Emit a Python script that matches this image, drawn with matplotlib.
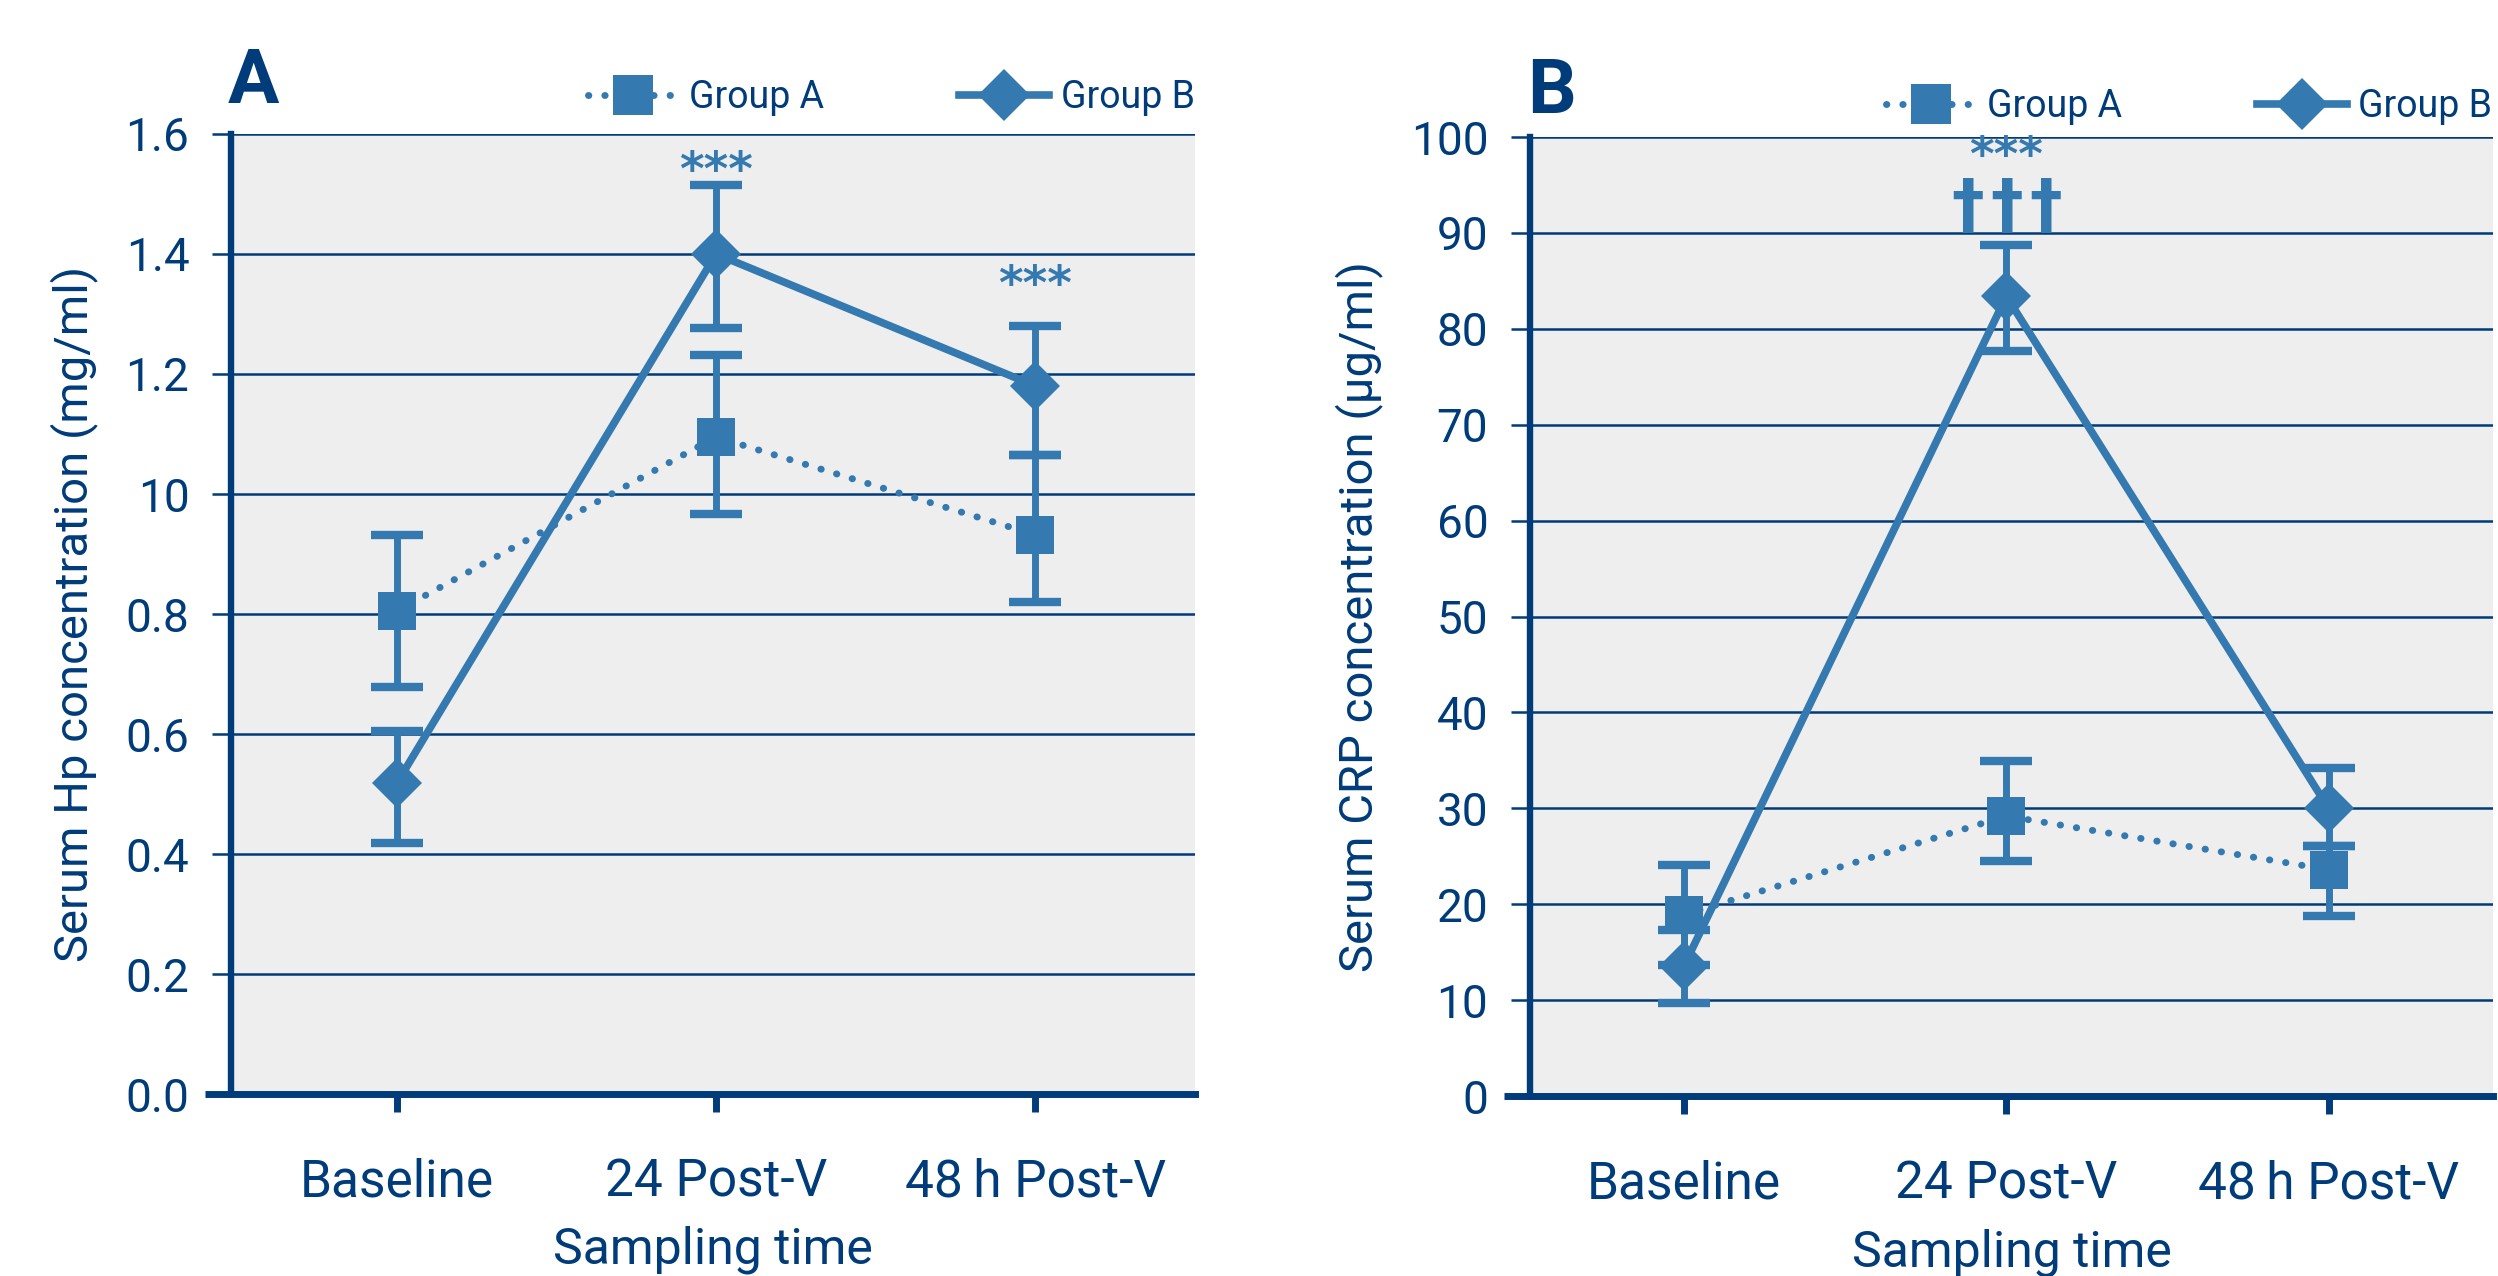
import numpy as np
import matplotlib.pyplot as plt

plt.rcParams['font.family'] = ['Roboto', 'DejaVu Sans']

NAVY = '#003b7a'
BLUE = '#347ab0'
BG = '#eeeeee'

times = ['Baseline', '24 Post-V', '48\u2009h Post-V']

# panel A: serum haptoglobin (mg/ml)
hp_a = [0.805, 1.095, 0.932]
hp_a_lo = [0.678, 0.967, 0.820]
hp_a_hi = [0.932, 1.232, 1.065]
hp_b = [0.518, 1.400, 1.180]
hp_b_lo = [0.418, 1.277, 1.065]
hp_b_hi = [0.605, 1.515, 1.280]
hp_ticks = [0.0, 0.2, 0.4, 0.6, 0.8, 1.0, 1.2, 1.4, 1.6]
hp_ticklabels = ['0.0', '0.2', '0.4', '0.6', '0.8', '10', '1.2', '1.4', '1.6']

# panel B: serum CRP (ug/ml)
crp_a = [18.9, 29.2, 23.6]
crp_a_lo = [13.7, 24.5, 18.8]
crp_a_hi = [24.1, 34.9, 26.1]
crp_b = [13.6, 83.4, 30.0]
crp_b_lo = [9.7, 77.7, 26.1]
crp_b_hi = [17.3, 88.7, 34.2]
crp_ticks = [0, 10, 20, 30, 40, 50, 60, 70, 80, 90, 100]

# significance marks: (time index, y, text)
hp_marks = [(1, 1.515, '***'), (2, 1.325, '***')]
crp_marks = [(1, 96.6, '***'), (1, 90.6, '\u2020\u2020\u2020')]


def panel(ax, a, a_lo, a_hi, b, b_lo, b_hi, ticks, ticklabels, ylim, xlim,
          ylabel, marks, letter, legend_y, letter_y):
    x = np.arange(len(times))
    a, b = np.array(a), np.array(b)
    ax.set_facecolor(BG)
    ekw = dict(fmt='none', ecolor=BLUE, elinewidth=5, capsize=19, capthick=6)
    ax.errorbar(x, a, yerr=[a - np.array(a_lo), np.array(a_hi) - a], zorder=2, **ekw)
    ax.errorbar(x, b, yerr=[b - np.array(b_lo), np.array(b_hi) - b], zorder=2, **ekw)
    ax.plot(x, a, color=BLUE, lw=5, linestyle=(0, (0.05, 2.3)),
            dash_capstyle='round', marker='s', ms=27, mew=0, zorder=4, label='Group A')
    ax.plot(x, b, color=BLUE, lw=5.5, marker='D', ms=25, mew=0, zorder=5,
            label='Group B')

    for i, y, t in marks:
        if t.startswith('\u2020'):
            # three daggers set close together
            for k, dx in enumerate((-28, 0, 28)):
                ax.annotate(t[k], (x[i], y), xytext=(dx, 0), textcoords='offset points',
                            ha='center', va='baseline', color=BLUE, fontsize=47,
                            fontweight='bold', family=['DejaVu Sans'], zorder=6)
        else:
            ax.text(x[i], y, t, ha='center', va='baseline', color=BLUE, fontsize=34,
                    fontweight='bold', family=['DejaVu Sans'], zorder=6)

    ax.set_xlim(*xlim)
    ax.set_ylim(*ylim)
    ax.set_xticks(x)
    ax.set_xticklabels(times)
    ax.set_yticks(ticks)
    ax.set_yticklabels(ticklabels)
    ax.yaxis.grid(True, color=NAVY, lw=1.8)
    ax.set_axisbelow(True)
    for s in ['top', 'right']:
        ax.spines[s].set_visible(False)
    ax.spines['left'].set_linewidth(4.6)
    ax.spines['bottom'].set_linewidth(5)
    ax.spines['left'].set_color(NAVY)
    ax.spines['bottom'].set_color(NAVY)
    ax.plot([-0.027, 0], [0, 0], transform=ax.transAxes, lw=5, color=NAVY,
            clip_on=False, solid_capstyle='butt')
    ax.tick_params(axis='y', length=14, width=1.8, color=NAVY, pad=16,
                   labelsize=33, labelcolor=NAVY)
    ax.tick_params(axis='x', length=13, width=5, color=NAVY, pad=33,
                   labelsize=37, labelcolor=NAVY)
    ax.set_ylabel(ylabel, fontsize=34, color=NAVY, labelpad=20)
    ax.set_xlabel('Sampling time', fontsize=36, color=NAVY, labelpad=13)

    ax.legend(loc='lower right', bbox_to_anchor=(1.015, legend_y), ncol=2,
              frameon=False, fontsize=27, labelcolor=NAVY, handlelength=2.4,
              handletextpad=0.3, columnspacing=3.6, borderaxespad=0,
              markerscale=1.05)
    ax.text(-0.003, letter_y, letter, transform=ax.transAxes, fontsize=55,
            fontweight='bold', color=NAVY, va='baseline', ha='left')


fig = plt.figure(figsize=(24.98, 12.76), dpi=100)
ax1 = fig.add_axes([0.0925, 0.1426, 0.3859, 0.7524])
ax2 = fig.add_axes([0.6125, 0.1410, 0.3855, 0.7516])

panel(ax1, hp_a, hp_a_lo, hp_a_hi, hp_b, hp_b_lo, hp_b_hi, hp_ticks,
      hp_ticklabels, (0, 1.6), (-0.519, 2.5),
      'Serum Hp concentration (mg/ml)', hp_marks, 'A', 1.003, 1.032)
panel(ax2, crp_a, crp_a_lo, crp_a_hi, crp_b, crp_b_lo, crp_b_hi, crp_ticks,
      [str(t) for t in crp_ticks], (0, 100), (-0.478, 2.51),
      'Serum CRP concentration (\u00b5g/ml)', crp_marks, 'B', 0.997, 1.025)

fig.savefig('out.png', dpi=100)
